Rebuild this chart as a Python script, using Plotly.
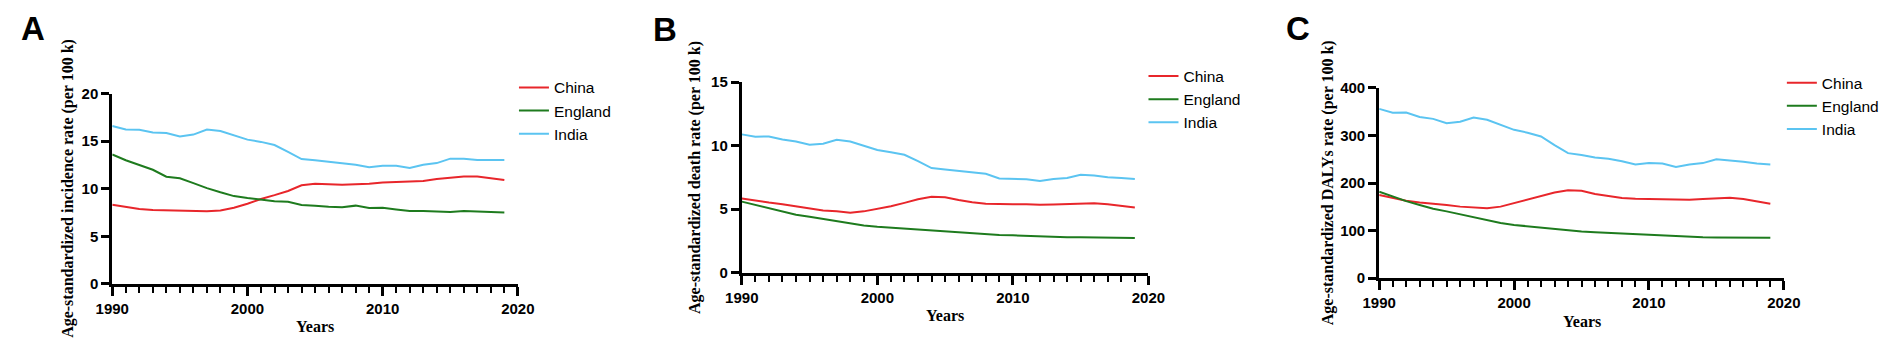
import plotly.graph_objects as go

years = list(range(1990, 2020))
countries = ["China", "England", "India"]

# Panel A: incidence rate
inc_china = [8.33, 8.10, 7.87, 7.77, 7.73, 7.67, 7.60, 7.63, 7.73, 8.00,
             8.43, 8.93, 9.33, 9.77, 10.37, 10.53, 10.47, 10.43, 10.47, 10.53,
             10.67, 10.73, 10.73, 10.83, 11.03, 11.17, 11.30, 11.30, 11.13, 10.93]
inc_england = [13.60, 13.00, 12.50, 12.00, 11.27, 11.10, 10.60, 10.07, 9.63, 9.23,
               9.03, 8.87, 8.70, 8.63, 8.30, 8.23, 8.10, 8.07, 8.23, 7.97,
               8.00, 7.83, 7.67, 7.67, 7.63, 7.57, 7.67, 7.60, 7.60, 7.50]
inc_india = [16.60, 16.23, 16.20, 15.93, 15.87, 15.50, 15.70, 16.23, 16.07, 15.60,
             15.17, 14.93, 14.60, 13.87, 13.13, 13.00, 12.83, 12.70, 12.53, 12.27,
             12.43, 12.43, 12.20, 12.53, 12.70, 13.17, 13.17, 13.03, 13.03, 13.03]

# Panel B: death rate
death_china = [5.84, 5.67, 5.52, 5.39, 5.24, 5.04, 4.89, 4.82, 4.72, 4.82,
               5.02, 5.22, 5.49, 5.77, 5.97, 5.94, 5.72, 5.54, 5.42, 5.39,
               5.39, 5.39, 5.34, 5.37, 5.42, 5.42, 5.47, 5.39, 5.27, 5.12]
death_england = [5.59, 5.34, 5.09, 4.82, 4.56, 4.39, 4.21, 4.04, 3.86, 3.71,
                 3.61, 3.54, 3.46, 3.39, 3.29, 3.21, 3.14, 3.09, 3.03, 2.96,
                 2.93, 2.88, 2.83, 2.81, 2.78, 2.78, 2.78, 2.76, 2.76, 2.73]
death_india = [10.89, 10.71, 10.73, 10.48, 10.33, 10.08, 10.16, 10.46, 10.33, 9.98,
               9.66, 9.48, 9.28, 8.78, 8.23, 8.13, 8.03, 7.93, 7.78, 7.42,
               7.40, 7.35, 7.22, 7.37, 7.45, 7.70, 7.65, 7.52, 7.45, 7.37]

# Panel C: DALYs rate
daly_china = [175, 168.5, 163, 159, 157, 154, 150.5, 148.5, 147, 150.5,
              158, 165, 173, 180, 185, 184, 177, 172.5, 168.5, 167,
              166.5, 166.5, 165, 165, 166.5, 167, 169, 166.5, 162, 156.5]
daly_england = [182, 172, 162, 154, 146, 140.5, 134.5, 128, 122, 116,
                112, 109, 106, 104, 100, 98, 96.5, 95, 94, 92,
                91, 90, 88, 87, 86, 85.5, 85.5, 85, 85, 85]
daly_india = [356, 348, 348.5, 339, 335, 326, 329, 338, 333, 322,
              312, 306, 298, 280, 263, 259, 254, 251, 246, 239,
              242, 241, 234, 239, 242, 250, 248, 245, 241, 239]

panel_letters = ["A", "B", "C"]
y_titles = ["Age-standardized incidence rate (per 100 k)",
            "Age-standardized death rate (per 100 k)",
            "Age-standardized DALYs rate (per 100 k)"]
x_title = "Years"
y_ranges = [[0, 20], [0, 15], [0, 400]]
y_dticks = [5, 5, 100]
x_tickvals = [1990, 2000, 2010, 2020]

panels = [
    [inc_china, inc_england, inc_india],
    [death_china, death_england, death_india],
    [daly_china, daly_england, daly_india],
]

colors = {"China": "#E8262B", "England": "#1E7B1E", "India": "#5BC4F1"}

W, H = 1901, 349
# pixel geometry of each panel: (x_left, x_right, y_top, y_bottom)
geom = [(97, 510, 89, 289), (738, 1152, 77, 277), (1387, 1799, 83, 283)]
legend_pos = [(506, 65), (1147, 53), (1797, 60)]
letter_pos = [(2, 20), (646, 22), (1290, 21)]
ytitle_x = [52, 691, 1335]
xtitle_y = [334, 322, 328]

fig = go.Figure()
tickfont = dict(family="Liberation Sans", size=15, color="black", weight="bold")
titlefont = dict(family="Liberation Serif", size=16, color="black", weight="bold")

annotations = []
for i, series in enumerate(panels):
    sfx = "" if i == 0 else str(i + 1)
    lg = "legend" if i == 0 else f"legend{i + 1}"
    for name, vals in zip(countries, series):
        fig.add_trace(go.Scatter(
            x=years, y=vals, mode="lines", name=name,
            line=dict(color=colors[name], width=2),
            xaxis="x" + sfx, yaxis="y" + sfx,
            legend=lg, legendgroup=f"{name}{i}",
        ))
    x0, x1, y0, y1 = geom[i]
    xd = [x0 / W, x1 / W]
    yd = [1 - y1 / H, 1 - y0 / H]
    fig.update_layout(**{
        "xaxis" + sfx: dict(
            domain=xd, anchor="y" + sfx, range=[1990, 2020],
            tickvals=x_tickvals, ticks="outside", ticklen=9, tickwidth=3,
            tickcolor="black", showline=True, linewidth=3, linecolor="black",
            showgrid=False, zeroline=False, tickfont=tickfont,
            minor=dict(dtick=1, tick0=1990, ticks="outside", ticklen=6,
                       tickwidth=2, tickcolor="black", showgrid=False),
        ),
        "yaxis" + sfx: dict(
            domain=yd, anchor="x" + sfx, range=y_ranges[i], dtick=y_dticks[i],
            ticks="outside", ticklen=8, tickwidth=2.5, tickcolor="black",
            showline=True, linewidth=3, linecolor="black",
            showgrid=False, zeroline=False, tickfont=tickfont,
        ),
        lg: dict(
            x=legend_pos[i][0] / W, y=1 - legend_pos[i][1] / H,
            xanchor="left", yanchor="top", bgcolor="rgba(0,0,0,0)",
            font=dict(family="Liberation Sans", size=15.5, color="black"),
            tracegroupgap=4, traceorder="normal",
        ),
    })
    annotations.append(dict(
        text=panel_letters[i], x=letter_pos[i][0] / W, y=1 - letter_pos[i][1] / H,
        xref="paper", yref="paper", xanchor="left", yanchor="middle",
        showarrow=False,
        font=dict(family="Liberation Sans", size=33, color="black", weight="bold"),
    ))
    annotations.append(dict(
        text=y_titles[i], x=ytitle_x[i] / W, y=1 - (y0 + y1) / 2 / H,
        xref="paper", yref="paper", xanchor="center", yanchor="middle",
        textangle=-90, showarrow=False, font=titlefont,
    ))
    annotations.append(dict(
        text=x_title, x=(x0 + x1) / 2 / W, y=1 - xtitle_y[i] / H,
        xref="paper", yref="paper", xanchor="center", yanchor="middle",
        showarrow=False, font=titlefont,
    ))

fig.update_layout(
    width=W, height=H, margin=dict(l=0, r=0, t=0, b=0),
    paper_bgcolor="white", plot_bgcolor="white",
    annotations=annotations, showlegend=True,
)

fig.write_html(
    "out.html",
    config={"displayModeBar": False},
    post_script="document.body.style.margin='0';document.body.style.padding='0';"
                "document.body.style.overflow='hidden';",
)
